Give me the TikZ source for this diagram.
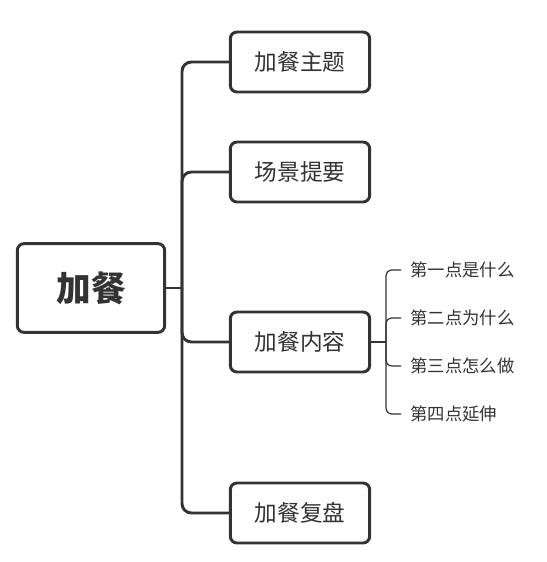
\documentclass[tikz,border=0pt]{standalone}
\usepackage{fontspec}
\setmainfont{Noto Sans CJK SC}
\usepackage{tikz}
\usetikzlibrary{positioning}
\definecolor{ink}{HTML}{333333}
\tikzset{
  topic/.style={draw=ink, line width=2.2pt, rounded corners=5pt,
    text=ink, minimum width=104.5pt, minimum height=45pt,
    font=\fontsize{17}{20}\selectfont},
  central/.style={topic, minimum width=110.5pt, minimum height=66.5pt,
    font=\fontsize{26}{30}\selectfont\bfseries},
  point/.style={text=ink, inner xsep=7pt, anchor=west,
    font=\fontsize{13}{16}\selectfont},
  trunk/.style={draw=ink, line width=2.2pt, rounded corners=7pt},
  twig/.style={draw=ink, line width=0.9pt, rounded corners=4.5pt}
}
\begin{document}
\begin{tikzpicture}[x=0.75pt,y=-0.75pt]
    \useasboundingbox[fill=white] (0,0) rectangle (547,562);
    \node[central] (root) at (91,288) {加餐};
    \node[topic] (theme)   at (300,62)  {加餐主题};
    \node[topic] (scene)   at (300,172) {场景提要};
    \node[topic] (content) at (300,342) {加餐内容};
    \node[topic] (review)  at (300,513) {加餐复盘};

    \coordinate (jn) at (182,288);
    \coordinate (hub) at (386,342);

    \node[point] (p1) at (401,270) {第一点是什么};
    \node[point] (p2) [below=36pt of p1.west, anchor=west] {第二点为什么};
    \node[point] (p3) [below=36pt of p2.west, anchor=west] {第三点怎么做};
    \node[point] (p4) [below=36pt of p3.west, anchor=west] {第四点延伸};

    \draw[trunk] (root.east) -- (jn);
    \draw[trunk] (jn) |- (theme.west);
    \draw[trunk] (jn) |- (scene.west);
    \draw[trunk] (jn) |- (content.west);
    \draw[trunk] (jn) |- (review.west);

    \draw[trunk] (content.east) -- (hub);
    \draw[twig] (hub) |- (p1.west);
    \draw[twig] (hub) |- (p2.west);
    \draw[twig] (hub) |- (p3.west);
    \draw[twig] (hub) |- (p4.west);
  \end{tikzpicture}
\end{document}
